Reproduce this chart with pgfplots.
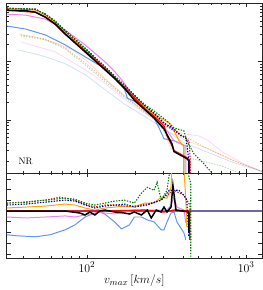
\documentclass[border=0pt]{standalone}
\usepackage{pgfplots}
\pgfplotsset{compat=1.18}
\definecolor{cflower}{HTML}{6495ED}
\definecolor{violetc}{HTML}{EE82EE}
\definecolor{orangec}{HTML}{FFA500}
\definecolor{greenc}{HTML}{008000}
\definecolor{navyc}{HTML}{00008B}
\definecolor{redd}{HTML}{C02020}
\definecolor{refc}{RGB}{112,102,172}
\pgfplotsset{
  common/.style={
    scale only axis, width=258pt,
    xmin=1.497, xmax=3.099,
    axis line style={line width=0.8pt, black!85},
    tick style={black!85, line width=0.5pt},
    major tick length=4pt, minor tick length=2pt,
    tick align=inside, xtick pos=both, ytick pos=both,
    xtick={2,3},
    minor xtick={1.602,1.699,1.778,1.845,1.903,1.954,2.301,2.477,2.602,2.699,2.778,2.845,2.903,2.954},
    yticklabels={},
    tick label style={font=\fontsize{13}{15}\selectfont},
    every axis plot/.append style={no markers},
  },
  mainl/.style={line width=1pt},
  dots/.style={line width=1.1pt, dash pattern=on 1.4pt off 1.4pt},
  faint/.style={line width=0.8pt, opacity=0.3},
}
\begin{document}
\begin{tikzpicture}
\begin{axis}[common, height=172pt, at={(0,0)}, anchor=south west,
  ymin=-2.915, ymax=0, xticklabels={},
  ytick={-2,-1,0},
  minor ytick={-0.699,-0.523,-0.398,-0.301,-0.222,-0.155,-0.097,-0.046,
    -1.699,-1.523,-1.398,-1.301,-1.222,-1.155,-1.097,-1.046,
    -2.699,-2.523,-2.398,-2.301,-2.222,-2.155,-2.097,-2.046},
]
% faint lines
\addplot[faint, orangec] coordinates {(1.571,-0.525)(1.677,-0.576)(1.801,-0.678)(1.907,-0.797)(2.006,-1.000)(2.112,-1.288)(2.236,-1.576)(2.360,-1.847)(2.422,-1.983)(2.503,-2.186)(2.578,-2.288)(2.627,-2.356)(2.733,-2.458)(2.839,-2.593)(2.938,-2.712)(3.099,-2.881)};
\addplot[faint, violetc] coordinates {(1.584,-0.661)(1.801,-0.831)(1.988,-1.136)(2.112,-1.373)(2.236,-1.644)(2.360,-1.881)(2.484,-2.102)(2.609,-2.237)(2.702,-2.271)(2.764,-2.356)(2.857,-2.559)(2.981,-2.746)(3.099,-2.881)};
\addplot[faint, cflower] coordinates {(1.565,-0.797)(1.696,-0.881)(1.739,-0.915)(1.863,-1.034)(1.988,-1.220)(2.112,-1.475)(2.236,-1.729)(2.360,-1.932)(2.484,-2.153)(2.609,-2.390)(2.733,-2.525)(2.919,-2.729)(3.099,-2.881)};
\addplot[faint, greenc, dash pattern=on 1.4pt off 1.4pt] coordinates {(1.584,-0.559)(1.739,-0.627)(1.863,-0.780)(1.988,-1.051)(2.112,-1.339)(2.236,-1.610)(2.422,-1.983)(2.484,-2.186)(2.528,-2.492)(2.627,-2.644)(2.839,-2.780)(2.963,-2.915)};
\addplot[faint, redd, dash pattern=on 1.4pt off 1.4pt] coordinates {(1.584,-0.542)(1.739,-0.610)(1.863,-0.763)(1.988,-1.017)(2.112,-1.305)(2.236,-1.593)(2.360,-1.847)(2.484,-2.051)(2.609,-2.271)(2.733,-2.458)(2.919,-2.695)(3.099,-2.881)};
% main lines
\addplot[mainl, cflower] coordinates {(1.497,-0.390)(1.615,-0.441)(1.739,-0.542)(1.863,-0.712)(1.988,-0.915)(2.112,-1.119)(2.174,-1.288)(2.236,-1.475)(2.255,-1.627)(2.298,-1.678)(2.360,-1.797)(2.422,-1.966)(2.453,-2.136)(2.484,-2.322)(2.547,-2.356)(2.590,-2.407)(2.609,-2.441)(2.609,-3.0)};
\addplot[mainl, violetc] coordinates {(1.497,-0.186)(1.615,-0.203)(1.739,-0.271)(1.863,-0.458)(1.988,-0.712)(2.112,-1.000)(2.174,-1.169)(2.236,-1.373)(2.298,-1.627)(2.360,-1.780)(2.422,-1.966)(2.503,-2.186)(2.547,-2.356)(2.590,-2.407)(2.621,-2.441)(2.621,-3.0)};
\addplot[mainl, orangec] coordinates {(1.497,-0.085)(1.677,-0.119)(1.739,-0.203)(1.801,-0.322)(1.863,-0.492)(1.988,-0.797)(2.112,-1.102)(2.236,-1.424)(2.360,-1.763)(2.422,-1.898)(2.516,-2.051)(2.547,-2.186)(2.578,-2.356)(2.596,-2.407)(2.609,-2.458)(2.609,-3.0)};
\addplot[mainl, red, line width=1.3pt] coordinates {(1.497,-0.119)(1.677,-0.153)(1.739,-0.237)(1.801,-0.356)(1.863,-0.525)(1.988,-0.814)(2.112,-1.119)(2.236,-1.441)(2.360,-1.797)(2.422,-1.932)(2.484,-2.102)(2.503,-2.271)(2.528,-2.407)(2.547,-2.525)(2.627,-2.644)(2.646,-2.695)(2.646,-3.0)};
\addplot[line width=1.5pt, black] coordinates {(1.497,-0.119)(1.615,-0.127)(1.677,-0.153)(1.739,-0.237)(1.801,-0.356)(1.863,-0.525)(1.925,-0.678)(1.988,-0.831)(2.050,-0.983)(2.112,-1.136)(2.174,-1.288)(2.236,-1.458)(2.298,-1.661)(2.360,-1.814)(2.422,-1.966)(2.484,-2.153)(2.534,-2.407)(2.547,-2.542)(2.627,-2.661)(2.640,-2.695)(2.640,-3.0)};
\addplot[dots, redd] coordinates {(1.497,-0.085)(1.677,-0.102)(1.739,-0.186)(1.863,-0.458)(1.988,-0.763)(2.112,-1.085)(2.236,-1.407)(2.360,-1.746)(2.422,-1.898)(2.484,-2.068)(2.547,-2.186)(2.609,-2.288)(2.640,-2.356)(2.646,-2.525)(2.652,-3.0)};
\addplot[dots, navyc] coordinates {(1.497,-0.085)(1.677,-0.102)(1.739,-0.186)(1.801,-0.305)(1.863,-0.475)(1.988,-0.780)(2.112,-1.085)(2.236,-1.407)(2.360,-1.746)(2.422,-1.881)(2.484,-2.051)(2.547,-2.153)(2.590,-2.271)(2.621,-2.305)(2.627,-2.407)(2.640,-2.695)(2.640,-3.0)};
\addplot[dots, greenc] coordinates {(1.497,-0.085)(1.677,-0.102)(1.739,-0.186)(1.801,-0.305)(1.863,-0.475)(1.988,-0.780)(2.112,-1.085)(2.236,-1.407)(2.360,-1.729)(2.422,-1.847)(2.503,-2.017)(2.547,-2.136)(2.609,-2.186)(2.627,-2.356)(2.671,-2.576)(2.733,-2.746)(2.783,-2.898)(2.789,-3.0)};
\node[font=\fontsize{9.5}{11}\selectfont] at (axis cs:1.615,-2.712) {NR};
\end{axis}
\begin{axis}[common, height=86pt, at={(0,0)}, anchor=north west,
  ymin=-0.444, ymax=0.352,
  ytick={-0.4,-0.3,-0.2,-0.1,0,0.1,0.2,0.3},
  xticklabels={$10^2$,$10^3$},
  xlabel={$v_{max}\,[km/s]$},
  xlabel style={font=\fontsize{12.5}{14}\selectfont, yshift=4pt},
]
\addplot[line width=1.3pt, refc] coordinates {(1.497,0)(3.099,0)};
\addplot[mainl, cflower] coordinates {(1.497,-0.222)(1.553,-0.231)(1.677,-0.241)(1.770,-0.222)(1.863,-0.176)(1.925,-0.130)(1.988,-0.056)(2.050,-0.019)(2.081,-0.009)(2.112,-0.028)(2.174,-0.102)(2.217,-0.167)(2.267,-0.130)(2.298,-0.056)(2.342,-0.056)(2.379,-0.083)(2.422,-0.102)(2.466,-0.176)(2.484,-0.176)(2.503,-0.102)(2.528,-0.019)(2.547,-0.009)(2.565,-0.102)(2.609,-0.204)(2.621,-0.269)};
\addplot[mainl, violetc] coordinates {(1.497,-0.056)(1.615,-0.065)(1.739,-0.056)(1.863,-0.046)(1.925,-0.056)(1.988,-0.037)(2.050,-0.019)(2.081,-0.009)(2.112,-0.019)(2.174,-0.028)(2.236,-0.009)(2.298,0.009)(2.404,0.009)(2.503,0.009)(2.528,0.056)(2.547,0.130)(2.565,0.037)(2.609,0.009)(2.621,-0.111)};
\addplot[mainl, orangec] coordinates {(1.497,0.028)(1.615,0.037)(1.739,0.046)(1.863,0.065)(1.925,0.056)(1.988,0.028)(2.050,0.009)(2.112,0.028)(2.174,0.037)(2.236,0.046)(2.298,0.037)(2.360,0.074)(2.422,0.074)(2.466,0.130)(2.503,0.120)(2.528,0.222)(2.534,0.40)(2.609,0.40)(2.621,0.102)(2.627,-0.148)};
\addplot[mainl, red, line width=1.3pt] coordinates {(1.497,0)(2.112,0.0)(2.360,0.009)(2.484,-0.009)(2.547,0.009)(2.646,0)(2.646,-0.269)};
\addplot[line width=1.5pt, black] coordinates {(1.497,0)(1.863,0)(1.957,-0.019)(1.988,-0.037)(2.019,-0.009)(2.050,-0.037)(2.081,0)(2.112,0.009)(2.174,-0.009)(2.236,-0.019)(2.267,-0.028)(2.298,-0.009)(2.342,-0.037)(2.379,0.009)(2.404,-0.065)(2.435,0.009)(2.466,-0.009)(2.484,0.037)(2.503,-0.009)(2.528,0.037)(2.540,0.241)(2.559,0.009)(2.640,-0.009)(2.640,-0.204)};
\addplot[dots, redd] coordinates {(1.497,0.074)(1.615,0.083)(1.739,0.102)(1.832,0.130)(1.863,0.120)(1.925,0.102)(1.988,0.065)(2.050,0.037)(2.112,0.056)(2.174,0.056)(2.236,0.046)(2.298,0.046)(2.379,0.065)(2.466,0.102)(2.503,0.148)(2.547,0.194)(2.609,0.148)(2.646,0.056)(2.652,-0.269)};
\addplot[dots, navyc] coordinates {(1.497,0.056)(1.615,0.065)(1.739,0.083)(1.863,0.102)(1.925,0.093)(1.988,0.056)(2.050,0.028)(2.112,0.046)(2.174,0.056)(2.236,0.065)(2.298,0.037)(2.379,0.056)(2.466,0.102)(2.503,0.167)(2.516,0.194)(2.578,0.194)(2.609,0.148)(2.627,0.102)(2.640,-0.241)};
\addplot[dots, greenc] coordinates {(1.497,0.074)(1.615,0.083)(1.739,0.102)(1.863,0.120)(1.925,0.111)(1.988,0.074)(2.050,0.056)(2.112,0.074)(2.174,0.093)(2.236,0.102)(2.298,0.074)(2.342,0.167)(2.379,0.222)(2.422,0.194)(2.441,0.269)(2.466,0.102)(2.503,0.194)(2.516,0.333)(2.534,0.40)(2.627,0.40)(2.652,0.259)(2.652,-0.426)};
\end{axis}
\end{tikzpicture}
\end{document}
